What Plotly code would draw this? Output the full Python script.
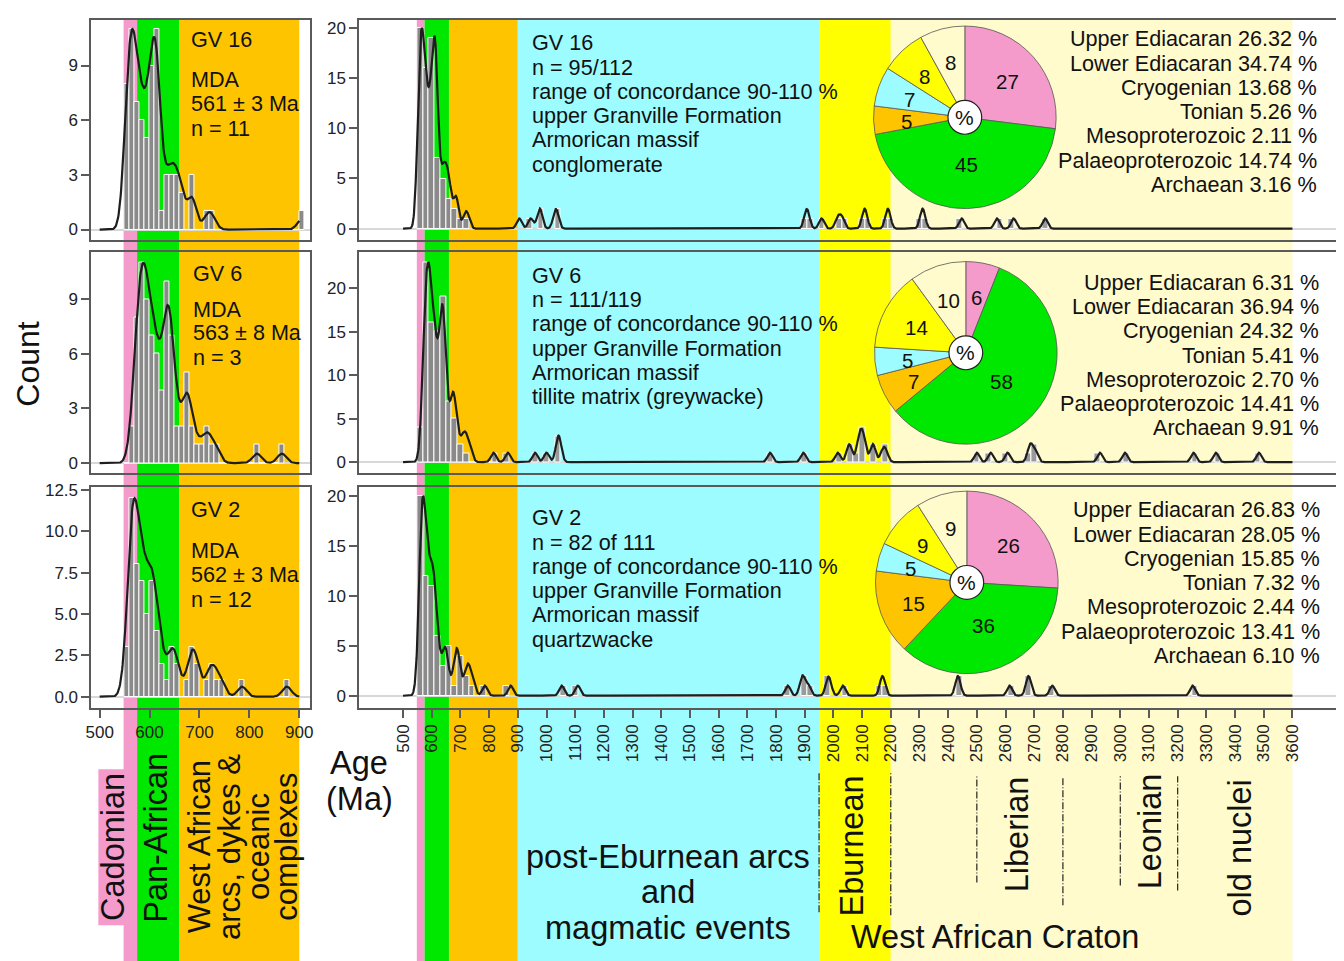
import numpy as np
import plotly.graph_objects as go

# page body has an 8 px margin: the figure is drawn 8 px smaller and all
# reference pixel positions are shifted by that offset
OFF = 8
W, H = 1344 - OFF, 961 - OFF

# ---------------- data ----------------
period_start = [548, 575, 660, 900, 1950, 2200]
period_end = [575, 660, 900, 1950, 2200, 3600]
period_color = ["#F59BCB", "#00E800", "#FFC400", "#9CFCFF", "#FFFF00", "#FFFBCC"]

samples = ["GV 16", "GV 6", "GV 2"]
young_start = 550
left_bin = 10
main_bin = 20

# counts per 10 Ma bin from 550 Ma (left panels)
gv16_left = [8, 11, 7, 6, 5, 9, 11, 1, 3, 3, 3, 2, 0, 3, 0, 0, 1, 1,
             0, 0, 0, 0, 0, 0, 0, 0, 0, 0, 0, 0, 0, 0, 0, 0, 0, 1]
gv6_left = [0, 2, 8, 11, 9, 7, 6, 4, 10, 7, 2, 2, 5, 2, 1, 1, 2, 1, 1, 0, 0, 0, 0, 0, 0, 0, 1, 0, 0, 0, 0, 1]
gv2_left = [3, 12, 8, 7, 5, 7, 4, 2, 1, 3, 2, 0, 1, 3, 2, 0, 1, 2, 1, 1, 0, 0, 0, 1, 0, 0, 0, 0, 0, 0, 0, 0, 1]

# counts per 20 Ma bin from 550 Ma (main panels, < 900 Ma)
gv16_main = [20, 16, 19, 7, 5, 3, 2, 1, 1]
gv6_main = [4, 23, 16, 15, 19, 7, 5, 2, 1, 0, 0, 0, 0, 1, 0, 1]
gv2_main = [20, 12, 11, 6, 3, 5, 1, 4, 2, 1, 0, 1, 0, 0, 0, 1]

# individual older grains (Ma)
gv16_old = [945, 975, 978, 1030, 1035, 1905, 1910, 1959, 2015, 2030, 2107, 2111,
            2188, 2192, 2309, 2313, 2447, 2570, 2628, 2738]
gv6_old = [960, 1000, 1038, 1042, 1046, 1779, 1895, 2015, 2052, 2058, 2085, 2092, 2097,
           2103, 2108, 2135, 2140, 2171, 2183, 2500, 2548, 2607, 2683, 2690, 2705, 2929,
           3016, 3255, 3333, 3483]
gv2_old = [1053, 1109, 1841, 1890, 1894, 1913, 1980, 1986, 2033, 2169, 2173, 2432, 2436,
           2614, 2678, 2682, 2763, 3252]

# pie: share (%) of grains per colour band
pie_gv16 = [27, 45, 5, 7, 8, 8]
pie_gv6 = [6, 58, 7, 5, 14, 10]
pie_gv2 = [26, 36, 15, 5, 9, 9]

mda_text = [["GV 16", "MDA", "561 ± 3 Ma", "n = 11"],
            ["GV 6", "MDA", "563 ± 8 Ma", "n = 3"],
            ["GV 2", "MDA", "562 ± 3 Ma", "n = 12"]]
info_text = [["GV 16", "n = 95/112", "range of concordance 90-110 %", "upper Granville Formation",
              "Armorican massif", "conglomerate"],
             ["GV 6", "n = 111/119", "range of concordance 90-110 %", "upper Granville Formation",
              "Armorican massif", "tillite matrix (greywacke)"],
             ["GV 2", "n = 82 of 111", "range of concordance 90-110 %", "upper Granville Formation",
              "Armorican massif", "quartzwacke"]]
period_labels = ["Upper Ediacaran", "Lower Ediacaran", "Cryogenian", "Tonian",
                 "Mesoproterozoic", "Palaeoproterozoic", "Archaean"]
pct_gv16 = ["26.32", "34.74", "13.68", "5.26", "2.11", "14.74", "3.16"]
pct_gv6 = ["6.31", "36.94", "24.32", "5.41", "2.70", "14.41", "9.91"]
pct_gv2 = ["26.83", "28.05", "15.85", "7.32", "2.44", "13.41", "6.10"]

left_counts = [gv16_left, gv6_left, gv2_left]
main_counts = [gv16_main, gv6_main, gv2_main]
old_ages = [gv16_old, gv6_old, gv2_old]
pies = [pie_gv16, pie_gv6, pie_gv2]
pcts = [pct_gv16, pct_gv6, pct_gv2]

# ---------------- layout geometry (reference pixels) ----------------
FONT = "Liberation Sans, Arial, sans-serif"
rows = [(14, 235), (248, 470), (484, 706)]
left_dom = (86, 306)
main_dom = (356, 1340)
left_xrange = [483.5, 921]
main_xrange = [347.8, 3752]
left_yranges = [[-0.55, 11.5], [-0.55, 11.57], [-0.66, 12.68]]
main_yranges = [[-1.09, 20.8], [-1.26, 24.1], [-1.19, 20.9]]
sigma = 9.0
TXT = 21.6
BIG = 32.5
TICK = 17


def fx(p):
    return (p - OFF) / W


def fy(p):
    return 1 - (p - OFF) / H


def kde(grid, ages, s):
    a = np.asarray(ages, float)[:, None]
    return np.exp(-0.5 * ((grid[None, :] - a) / s) ** 2).sum(axis=0)


fig = go.Figure()
layout = dict(width=W, height=H, margin=dict(l=0, r=0, t=0, b=0),
              paper_bgcolor="white", plot_bgcolor="rgba(0,0,0,0)",
              showlegend=False, font=dict(family=FONT, color="#111"),
              bargap=0, barmode="overlay")

axis_common = dict(showline=True, mirror=True, linecolor="#5a5a5a", linewidth=2,
                   showgrid=False, zeroline=False, ticks="outside", ticklen=8,
                   tickcolor="#5a5a5a", tickwidth=1.5,
                   tickfont=dict(size=TICK, color="#222", family=FONT))

for r in range(3):
    top, bot = rows[r]
    counts = left_counts[r]
    young_ages = np.repeat(young_start + left_bin / 2 + left_bin * np.arange(len(counts)), counts)
    all_ages = np.concatenate([young_ages, np.asarray(old_ages[r], float)])
    for c in range(2):
        n = 2 * r + c + 1
        xa = "x" if n == 1 else f"x{n}"
        ya = "y" if n == 1 else f"y{n}"
        xname = "xaxis" if n == 1 else f"xaxis{n}"
        yname = "yaxis" if n == 1 else f"yaxis{n}"
        dom = left_dom if c == 0 else main_dom
        xax = dict(axis_common, domain=[fx(dom[0]), fx(dom[1])], anchor=ya)
        yax = dict(axis_common, domain=[fy(bot), fy(top)], anchor=xa,
                   zeroline=True, zerolinecolor="#d8d8d8", zerolinewidth=1.5)
        if c == 0:
            xax["range"] = left_xrange
            yax["range"] = left_yranges[r]
            if r < 2:
                yax["tickvals"] = [0, 3, 6, 9]
            else:
                yax["tickvals"] = [0, 2.5, 5, 7.5, 10, 12.5]
                yax["tickformat"] = ".1f"
            if r == 2:
                xax["tickvals"] = [500, 600, 700, 800, 900]
            else:
                xax["ticks"] = ""
                xax["showticklabels"] = False
            centers = young_start + left_bin / 2 + left_bin * np.arange(len(counts))
            fig.add_trace(go.Bar(x=centers, y=counts, width=left_bin, xaxis=xa, yaxis=ya,
                                 marker=dict(color="#8a8a8a", line=dict(color="white", width=1))))
            grid = np.arange(500, 901, 1.0)
            k = kde(grid, all_ages, sigma)
            curve = k / k.max() * max(counts)
            fig.add_trace(go.Scatter(x=grid, y=curve, mode="lines", xaxis=xa, yaxis=ya,
                                     line=dict(color="#1e1e1e", width=2.2)))
        else:
            xax["range"] = main_xrange
            yax["range"] = main_yranges[r]
            yax["tickvals"] = [0, 5, 10, 15, 20]
            if r == 2:
                xax["tickvals"] = list(range(500, 3601, 100))
                xax["tickangle"] = -90
            else:
                xax["ticks"] = ""
                xax["showticklabels"] = False
            mc = main_counts[r]
            centers = young_start + main_bin / 2 + main_bin * np.arange(len(mc))
            fig.add_trace(go.Bar(x=centers, y=mc, width=main_bin, xaxis=xa, yaxis=ya,
                                 marker=dict(color="#8a8a8a", line=dict(color="white", width=1))))
            fig.add_trace(go.Histogram(x=old_ages[r], xbins=dict(start=young_start, end=3700, size=main_bin),
                                       xaxis=xa, yaxis=ya,
                                       marker=dict(color="#9a9a9a", line=dict(color="white", width=1))))
            grid = np.arange(500, 3601, 1.0)
            k = kde(grid, all_ages, sigma)
            curve = k / k.max() * max(mc)
            fig.add_trace(go.Scatter(x=grid, y=curve, mode="lines", xaxis=xa, yaxis=ya,
                                     line=dict(color="#1e1e1e", width=2.2)))
        layout[xname] = xax
        layout[yname] = yax

# ---------------- colour bands ----------------
shapes = []
for i in range(6):
    if i < 3:
        shapes.append(dict(type="rect", xref="x", yref="paper", x0=period_start[i], x1=period_end[i],
                           y0=0, y1=fy(14), fillcolor=period_color[i], line=dict(width=0), layer="below"))
    shapes.append(dict(type="rect", xref="x2", yref="paper", x0=period_start[i], x1=period_end[i],
                       y0=0, y1=fy(14), fillcolor=period_color[i], line=dict(width=0), layer="below"))
# Cadomian label box
shapes.append(dict(type="rect", xref="paper", yref="paper", x0=fx(93), x1=fx(121), y0=fy(925), y1=fy(768),
                   fillcolor=period_color[0], line=dict(width=0), layer="below"))
# dash-dot boundaries
bounds = [(1950, 770, 912), (2200, 770, 915), (2500, 775, 882), (2800, 775, 905),
          (3000, 775, 885), (3200, 775, 890)]
for a, y0, y1 in bounds:
    shapes.append(dict(type="line", xref="x2", yref="paper", x0=a, x1=a, y0=fy(y1), y1=fy(y0),
                       line=dict(color="#222", width=1.2, dash="7px,2px,1px,2px"), layer="above"))

# ---------------- pies ----------------
pie_centers = [(966, 112), (967, 349), (968, 580)]
pie_r = 92
annotations = []
for r in range(3):
    cx, cy = pie_centers[r]
    vals = pies[r]
    fig.add_trace(go.Pie(values=vals, textinfo="none",
                         sort=False, direction="clockwise", rotation=0,
                         marker=dict(colors=period_color, line=dict(color="#555", width=0.8)),
                         domain=dict(x=[fx(cx - pie_r), fx(cx + pie_r)], y=[fy(cy + pie_r), fy(cy - pie_r)]),
                         hoverinfo="skip"))
    # slice labels placed on the slice bisector
    tot = float(sum(vals))
    cum = np.cumsum([0] + list(vals))
    for i, v in enumerate(vals):
        theta = np.deg2rad(360.0 * (cum[i] + v / 2.0) / tot)
        rho = 45 if v >= 30 else (57 if v >= 10 else 59)
        lx = cx + rho * np.sin(theta)
        ly = cy - rho * np.cos(theta) + 2
        annotations.append(dict(x=fx(lx), y=fy(ly), xref="paper", yref="paper", text=str(v),
                                showarrow=False, xanchor="center", yanchor="middle",
                                font=dict(size=20.5, color="#111", family=FONT)))
    shapes.append(dict(type="circle", xref="paper", yref="paper",
                       x0=fx(cx - 17), x1=fx(cx + 17), y0=fy(cy + 17), y1=fy(cy - 17),
                       fillcolor="white", line=dict(color="#222", width=1.2), layer="above"))
    annotations.append(dict(x=fx(cx), y=fy(cy), xref="paper", yref="paper", text="%", showarrow=False,
                            xanchor="center", yanchor="middle",
                            font=dict(size=21, color="#111", family=FONT)))


# ---------------- texts ----------------
def ann(x, y, t, size=TXT, xanchor="left", angle=0):
    annotations.append(dict(x=fx(x), y=fy(y), xref="paper", yref="paper", text=t, showarrow=False,
                            xanchor=xanchor, yanchor="middle", textangle=angle,
                            font=dict(size=size, color="#111", family=FONT)))


mda_pos = [(184, [34, 74, 98, 123]), (186, [269, 305, 329, 354]), (184, [507, 548, 572, 597])]
for r in range(3):
    x0, ys = mda_pos[r]
    for t, y in zip(mda_text[r], ys):
        ann(x0, y, t)

info_y0 = [37, 271, 515]
for r in range(3):
    for j, t in enumerate(info_text[r]):
        ann(528, info_y0[r] + 24.4 * j, t)

pct_y0 = [33, 278, 507]
pct_x = [1323, 1325, 1326]
for r in range(3):
    for j, (lab, p) in enumerate(zip(period_labels, pcts[r])):
        ann(pct_x[r], pct_y0[r] + 24.4 * j, f"{lab} {p} %", xanchor="right")

ann(22, 360, "Count", size=32, xanchor="center", angle=-90)
ann(107, 846, "Cadomian", size=BIG, xanchor="center", angle=-90)
ann(151, 837, "Pan-African", size=BIG, xanchor="center", angle=-90)
for x, t in zip([195, 225, 255, 283], ["West African", "arcs, dykes &", "oceanic", "complexes"]):
    ann(x, 846, t, size=31, xanchor="center", angle=-90)
ann(356, 762, "Age", size=BIG, xanchor="center")
ann(356, 798, "(Ma)", size=BIG, xanchor="center")
for y, t in zip([856, 892, 928], ["post-Eburnean arcs", "and", "magmatic events"]):
    ann(667, y, t, size=BIG, xanchor="center")
ann(852, 845, "Eburnean", size=BIG, xanchor="center", angle=-90)
ann(996, 937, "West African Craton", size=BIG, xanchor="center")
ann(1018, 833, "Liberian", size=BIG, xanchor="center", angle=-90)
ann(1152, 830, "Leonian", size=BIG, xanchor="center", angle=-90)
ann(1243, 847, "old nuclei", size=BIG, xanchor="center", angle=-90)

layout["shapes"] = shapes
layout["annotations"] = annotations
fig.update_layout(**layout)
fig.write_html("out.html")
